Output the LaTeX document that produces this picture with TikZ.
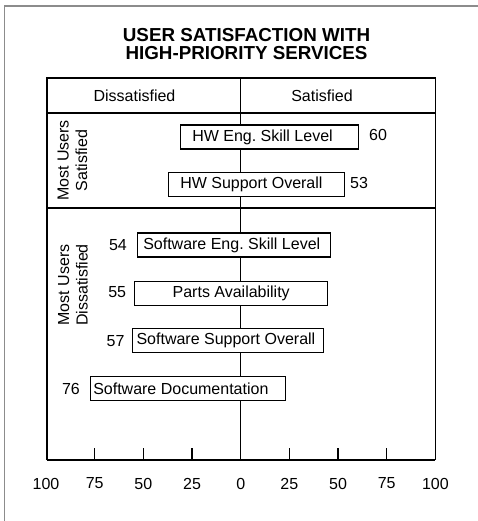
\documentclass[tikz,border=0pt]{standalone}
\usepackage{fontspec}
\setmainfont{Liberation Sans}
\frenchspacing
% box of width #1 whose text starts #2 from its left side
\newcommand{\bartext}[3]{\hspace*{#2}\makebox[\dimexpr#1-#2\relax][l]{#3}}
\newcommand{\barcentre}[2]{\makebox[#1][c]{#2}}
\begin{document}
\begin{tikzpicture}[x=1pt,y=-1pt,
  txt/.style={font=\fontsize{16}{18.5}\selectfont, inner sep=0pt},
  bar/.style={draw, fill=white, line width=1.1pt, font=\fontsize{16}{18.5}\selectfont,
    inner xsep=0pt, inner ysep=0pt, minimum height=24pt, anchor=west},
  val/.style={font=\fontsize{16}{18.5}\selectfont, inner sep=0pt},
  frame/.style={draw=black!45, line width=1.6pt},
  chart/.style={line width=1.2pt},
  tick/.style={line width=1.2pt}]
\useasboundingbox (0,0) rectangle (478,521);
% page frame (left and top edges)
\draw[frame] (4.3,521) -- (4.3,6) -- (478,6);
% title
\node[font=\bfseries\fontsize{18.8}{18.3}\selectfont, align=center, inner sep=0pt]
  (title) at (246.5,44) {USER SATISFACTION WITH\\HIGH-PRIORITY SERVICES};
% chart frame
\draw[chart] (47,460) -- (47,78) -- (435.4,78) -- (435.4,460);
\draw[chart] (47,460) -- (435.4,460);
\draw[chart] (47,113) -- (435.4,113);
\draw[line width=1.8pt] (46,208) -- (436.4,208);
\draw[chart] (240.7,78) -- (240.7,460);
% headers
\node[txt] (dis) at (134.5,96) {Dissatisfied};
\node[txt] (sat) at (322,96) {Satisfied};
% section labels
\node[txt, rotate=90, align=center] (secA) at (72.5,160.5) {Most Users\\Satisfied};
\node[txt, rotate=90, align=center] (secB) at (73,285) {Most Users\\Dissatisfied};
% bars
\node[bar] (b1) at (180,137) {\bartext{178.3pt}{11.7pt}{HW Eng. Skill Level}};
\node[val, anchor=west] (v1) at (369,135) {60};
\node[bar] (b2) at (167.7,184.7) {\bartext{176.3pt}{12pt}{HW Support Overall}};
\node[val, anchor=west] (v2) at (350,183.3) {53};
\node[bar] (b3) at (137,245) {\bartext{193pt}{5.7pt}{Software Eng. Skill Level}};
\node[val, anchor=east] (v3) at (127,245.5) {54};
\node[bar] (b4) at (134,293.7) {\barcentre{193.3pt}{Parts Availability}};
\node[val, anchor=east] (v4) at (126.3,291.7) {55};
\node[bar] (b5) at (131.7,340.8) {\bartext{191pt}{4.3pt}{Software Support Overall}};
\node[val, anchor=east] (v5) at (124.7,340.7) {57};
\node[bar] (b6) at (90,388.8) {\bartext{195.3pt}{2.7pt}{Software Documentation}};
\node[val, anchor=east] (v6) at (80,389) {76};
% axis ticks and labels
\foreach \v/\lab [count=\i] in {-100/100,-75/75,-50/50,-25/25,0/0,25/25,50/50,75/75,100/100}{
  \pgfmathsetmacro{\xx}{240.7+\v*1.947}
  \ifnum\i>1\ifnum\i<9\ifnum\i=5\else
    \draw[tick] (\xx,448) -- (\xx,460);
  \fi\fi\fi
  \node[val] (ax\i) at (\xx,483.5) {\lab};
}
\end{tikzpicture}
\end{document}
